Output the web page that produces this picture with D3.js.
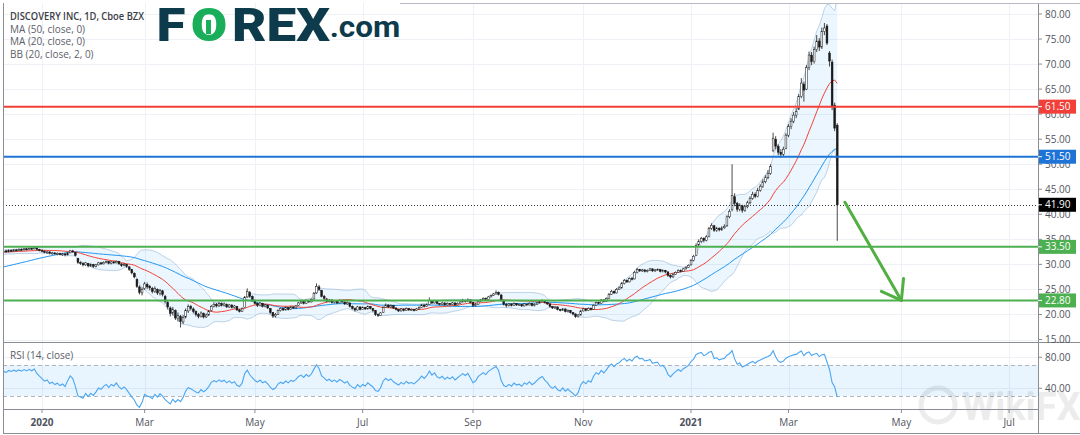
<!DOCTYPE html>
<html><head><meta charset="utf-8">
<script src="https://cdn.jsdelivr.net/npm/d3@7"></script>
<style>html,body{margin:0;padding:0;background:#fff;}svg{display:block;}</style>
</head><body>
<svg id="chart" width="1080" height="435"></svg>
<script>
// ---------------- DATA ----------------
const startDate = "2019-12-09";
const holidays = ["2019-12-25","2020-01-01","2020-01-20","2020-02-17","2020-04-10","2020-05-25","2020-07-03","2020-09-07","2020-11-26","2020-12-25","2021-01-01","2021-01-18","2021-02-15","2021-04-02","2021-05-31","2021-07-05"];
// closes before the visible window (estimated from where the MA(50)/BB start)
const priorCloses = [26.6,26.9,26.4,26.8,27.1,26.7,26.5,26.9,27.2,26.8,26.6,27.0,26.7,26.4,26.8,27.1,26.9,26.6,27.0,27.3,26.9,26.7,27.0,26.8,27.1,26.9,27.2,
31.2,31.8,32.2,31.9,32.4,32.1,32.6,32.3,32.0,32.5,32.8,32.4,32.7,32.3,32.6,32.9,32.5,32.2,32.6,32.4,32.7,32.3];
const closes = [32.4,32.6,32.5,32.8,32.7,32.9,32.8,33.0,32.9,33.1,33.0,33.2,33.1,33.3,33.0,32.8,
32.6,32.4,32.5,32.2,32.3,32.1,32.2,32.0,32.1,31.9,32.3,32.7,32.5,31.8,
30.4,30.2,29.9,30.3,29.7,30.0,29.6,29.9,30.3,30.1,
30.4,30.6,30.2,30.5,30.3,30.6,30.1,29.8,30.0,29.6,
29.0,28.3,27.5, 25.6,24.4,25.0,
26.1,25.5,25.3,24.6,25.2,24.3,24.8,24.0,
22.6,21.5,20.2,21.0,19.3,19.8,18.6,19.4,
20.8,21.6,21.2,20.6,20.0,19.6,20.3,19.5,19.9,20.6,
21.6,22.0,21.7,22.2,21.8,22.1,21.5,21.9,21.4,21.7,20.9,20.6,21.2,
23.4,24.6,23.6,22.9,22.2,21.8,22.3,21.6,21.9,21.3,
20.4,19.7,20.0,20.8,21.2,20.9,21.4,21.0,21.5,21.3,21.7,
22.3,22.6,22.2,22.8,22.5,23.0,24.2,25.6,25.0,23.6,23.2,22.6,
22.9,22.4,22.7,22.3,22.8,22.5,22.1,22.4,21.6,21.2,20.9,21.5,21.0,
21.4,21.1,21.6,21.2,20.8,20.0,19.8,20.3,21.4,21.9,21.5,21.8,21.3,
21.0,20.7,21.1,20.8,21.2,20.9,21.0,20.8,21.1,21.4,
21.9,21.6,22.0,22.8,22.3,22.7,22.2,22.0,22.3,21.9,22.2,22.0,22.3,21.9,22.2,
22.5,22.8,22.6,22.9,22.4,21.8,22.0,
22.6,22.9,23.2,23.0,23.5,23.8,24.1,24.4,24.0,
22.8,22.0,21.8,22.1,21.8,22.2,21.9,22.0,21.7,22.1,21.9,22.2,21.8,22.0,22.3,
22.6,22.8,22.4,22.1,21.6,21.3,21.5,21.0,20.8,21.1,20.6,20.8,20.4,20.1,
19.6,19.9,20.7,21.1,20.8,21.2,21.0,
21.8,22.4,22.2,22.9,22.6,23.2,24.0,24.6,24.3,25.0,25.3,26.2,26.8,26.5,27.2,27.0,
28.4,29.0,28.7,28.9,28.6,28.8,29.1,28.7,28.9,29.0,28.6,28.8,28.5,27.8,27.5,28.0,
28.4,28.8,28.6,29.1,29.4,29.8,30.8,31.6,33.8,34.6,35.2,34.8,35.5,
37.2,37.8,36.8,37.2,36.9,37.3,37.6,39.5,40.6,
43.8,42.2,41.0,41.8,40.8,41.5,42.3,43.2,44.0,43.6,44.8,45.6,46.5,47.3,48.2,49.5,
55.2,53.6,52.4,52.0,53.0,55.8,57.5,58.6,59.8,60.5,63.5,66.2,64.8,
69.3,71.8,70.5,72.9,74.6,73.4,76.5,77.2,74.2,70.6,61.5,57.2,41.9];
const opens = [32.2,32.4,32.7,32.5,32.8,32.6,32.9,32.8,33.0,32.9,33.1,33.0,33.2,33.1,33.3,33.0,
32.8,32.6,32.3,32.5,32.1,32.3,32.0,32.2,31.9,32.1,31.9,32.3,32.7,32.4,
31.2,30.4,30.2,29.9,30.2,29.7,30.0,29.6,29.9,30.3,
30.1,30.4,30.6,30.2,30.5,30.3,30.6,30.1,29.8,30.0,
29.5,29.0,28.2, 27.0,25.5,24.3,
25.2,26.0,25.6,25.2,24.6,25.0,24.2,24.7,
23.6,22.4,21.3,20.3,20.8,19.2,19.6,18.5,
19.5,20.7,21.6,21.1,20.6,20.0,19.6,20.2,19.5,19.9,
20.8,21.6,22.0,21.7,22.2,21.8,22.0,21.5,21.9,21.4,21.6,20.9,20.6,
21.4,23.5,24.4,23.6,22.8,22.2,21.8,22.2,21.6,21.8,
21.2,20.4,19.7,20.0,20.8,21.2,20.9,21.4,21.0,21.5,21.3,
21.8,22.3,22.6,22.2,22.8,22.5,23.1,24.3,25.5,24.8,23.6,23.1,
22.6,22.9,22.4,22.7,22.3,22.8,22.5,22.1,22.3,21.6,21.2,20.9,21.5,
21.0,21.4,21.1,21.6,21.2,20.8,20.0,19.8,20.4,21.4,21.9,21.5,21.8,
21.3,21.0,20.7,21.1,20.8,21.2,20.9,21.0,20.8,21.1,
21.4,21.9,21.6,22.0,22.8,22.3,22.7,22.2,22.0,22.3,21.9,22.2,22.0,22.3,21.9,
22.2,22.5,22.8,22.6,22.9,22.4,21.8,
22.0,22.6,22.9,23.2,23.0,23.5,23.8,24.1,24.4,
23.9,22.8,22.0,21.8,22.1,21.8,22.2,21.9,22.0,21.7,22.1,21.9,22.2,21.8,22.0,
22.3,22.6,22.8,22.4,22.1,21.6,21.3,21.5,21.0,20.8,21.1,20.6,20.8,20.4,
20.1,19.6,19.9,20.7,21.1,20.8,21.2,
21.0,21.8,22.4,22.2,22.9,22.6,23.2,24.0,24.6,24.3,25.0,25.3,26.2,26.8,26.5,27.2,
27.1,28.4,29.0,28.7,28.9,28.6,28.8,29.1,28.7,28.9,29.0,28.6,28.8,28.5,27.8,27.5,
28.0,28.4,28.8,28.6,29.1,29.4,29.9,30.8,31.8,33.9,34.6,35.2,34.8,
35.6,37.2,37.7,36.8,37.2,36.9,37.3,37.7,39.5,
41.0,43.5,42.2,41.0,41.7,40.8,41.5,42.3,43.2,44.0,43.6,44.8,45.6,46.5,47.3,48.2,
52.8,55.0,53.6,52.4,52.0,53.2,55.8,57.5,58.6,59.8,61.0,63.5,66.0,
65.0,69.3,71.8,70.5,72.9,74.6,73.4,76.5,77.6,72.2,70.4,61.8,57.8];
const highs = [32.6,32.8,32.9,33.0,33.0,33.1,33.1,33.2,33.2,33.3,33.3,33.4,33.4,33.5,33.4,33.1,
33.0,32.8,32.7,32.6,32.5,32.4,32.4,32.3,32.3,32.2,32.5,32.9,32.9,32.5,
31.3,30.6,30.4,30.5,30.3,30.2,30.1,30.1,30.5,30.5,
30.6,30.8,30.7,30.7,30.7,30.8,30.7,30.2,30.3,30.1,
29.7,29.1,28.4, 27.2,25.8,25.4,
26.5,26.4,25.9,25.5,25.6,25.2,25.1,24.9,
23.9,22.8,21.6,21.5,21.0,20.4,19.9,19.9,
21.2,22.0,21.9,21.4,20.8,20.3,20.6,20.4,20.2,20.9,
21.9,22.4,22.3,22.5,22.4,22.4,22.2,22.1,22.0,21.9,21.7,21.1,21.4,
23.7,25.2,24.7,23.8,23.0,22.4,22.5,22.3,22.1,22.0,
21.3,20.5,20.3,21.0,21.4,21.3,21.6,21.5,21.7,21.6,21.9,
22.5,22.8,22.7,23.0,22.9,23.2,24.5,26.2,25.9,24.9,23.9,23.3,
23.1,23.0,22.9,22.8,23.0,22.9,22.6,22.6,22.4,21.8,21.4,21.7,21.6,
21.6,21.5,21.8,21.7,21.3,20.9,20.2,20.5,21.6,22.2,22.0,22.0,21.9,
21.4,21.1,21.3,21.2,21.4,21.3,21.2,21.1,21.3,21.6,
22.1,22.0,22.2,23.4,22.9,22.9,22.8,22.3,22.5,22.4,22.4,22.3,22.5,22.4,22.4,
22.7,23.1,22.9,23.2,23.0,22.5,22.3,
22.8,23.1,23.4,23.4,23.7,24.0,24.3,24.8,24.6,
24.0,23.0,22.3,22.3,22.2,22.4,22.3,22.2,22.1,22.3,22.2,22.4,22.3,22.2,22.5,
22.8,23.0,22.9,22.5,22.2,21.7,21.7,21.6,21.1,21.3,21.2,21.0,20.9,20.5,
20.2,20.1,20.9,21.3,21.2,21.4,21.4,
22.0,22.6,22.6,23.1,23.0,23.4,24.3,24.9,24.8,25.3,25.6,26.5,27.1,27.0,27.4,27.5,
28.7,29.3,29.1,29.1,29.0,29.0,29.3,29.2,29.1,29.2,29.1,29.0,28.9,28.6,28.0,28.2,
28.6,29.0,29.0,29.3,29.6,30.0,31.1,31.9,34.2,35.0,35.5,35.4,35.8,
37.5,38.2,37.9,37.5,37.4,37.6,38.0,39.8,41.0,
50.0,44.2,42.5,42.2,41.9,41.9,42.7,43.6,44.5,44.4,45.3,46.0,47.0,47.8,48.8,50.0,
56.3,55.6,54.0,53.0,53.5,56.2,58.0,59.2,60.4,61.2,64.0,67.2,66.5,
69.8,72.5,72.4,73.5,75.8,75.2,77.3,78.2,78.0,72.6,70.9,62.3,58.2];
const lows = [32.0,32.3,32.3,32.4,32.5,32.5,32.6,32.7,32.7,32.8,32.8,32.9,32.9,33.0,32.8,32.6,
32.4,32.2,32.1,32.0,31.9,31.9,31.8,31.8,31.7,31.6,31.8,32.2,32.3,31.6,
30.1,29.9,29.6,29.7,29.4,29.5,29.3,29.4,29.8,29.9,
30.0,30.2,30.0,30.0,30.1,30.2,29.9,29.5,29.6,29.3,
28.7,28.0,27.2, 25.3,24.0,23.8,
24.9,25.1,24.8,24.2,24.3,23.9,23.8,23.6,
22.2,21.0,19.6,19.8,18.9,18.6,17.4,18.1,
19.2,20.3,20.8,20.2,19.6,19.2,19.4,19.2,19.3,19.7,
20.6,21.4,21.4,21.5,21.6,21.6,21.3,21.3,21.2,21.2,20.7,20.4,20.5,
21.3,23.3,23.3,22.6,22.0,21.5,21.6,21.4,21.4,21.1,
20.1,19.3,19.4,19.9,20.6,20.7,20.8,20.8,20.9,21.1,21.2,
21.7,22.1,22.0,22.1,22.3,22.4,23.0,24.1,24.7,23.4,22.9,22.4,
22.4,22.2,22.2,22.1,22.2,22.3,21.9,21.9,21.4,21.0,20.6,20.8,20.8,
20.9,20.9,21.0,21.0,20.5,19.7,19.5,19.7,20.3,21.3,21.3,21.3,21.1,
20.8,20.5,20.6,20.6,20.7,20.7,20.7,20.6,20.7,21.0,
21.3,21.4,21.5,21.9,22.1,22.2,22.0,21.8,21.9,21.8,21.8,21.8,21.9,21.8,21.8,
22.1,22.4,22.4,22.5,22.2,21.5,21.6,
21.9,22.5,22.8,22.8,22.9,23.4,23.7,24.0,23.8,
22.6,21.8,21.4,21.6,21.6,21.7,21.7,21.7,21.5,21.6,21.7,21.8,21.6,21.6,21.9,
22.2,22.5,22.2,21.9,21.4,21.1,21.1,20.8,20.6,20.7,20.4,20.4,20.2,19.8,
19.3,19.4,19.8,20.6,20.6,20.7,20.8,
20.9,21.7,22.0,22.1,22.4,22.5,23.1,23.9,24.1,24.2,24.9,25.2,26.0,26.3,26.4,26.8,
27.0,28.2,28.5,28.5,28.4,28.4,28.7,28.5,28.5,28.7,28.4,28.4,28.2,27.5,27.2,27.3,
27.9,28.3,28.4,28.5,29.0,29.3,29.8,30.6,31.7,33.6,34.3,34.4,34.6,
35.4,36.9,36.5,36.5,36.6,36.7,37.1,37.5,39.2,
40.6,41.6,40.5,40.6,40.3,40.5,41.2,42.0,42.9,43.2,43.4,44.5,45.3,46.2,47.0,47.9,
52.4,53.0,51.8,51.3,51.6,53.0,55.4,57.0,58.2,59.2,60.8,63.2,62.5,
64.8,68.8,69.8,70.1,72.4,72.6,73.0,75.8,73.8,69.5,60.8,56.6,34.7];

const levels = [61.5, 51.5, 33.5, 22.8];
const lastPrice = 41.9;
const priceTicks = [15,20,25,30,35,40,45,50,55,60,65,70,75,80];
const rsiTicks = [40, 80];
const rsiBand = [30, 70];
const monthTicks = ["2020-01","2020-03","2020-05","2020-07","2020-09","2020-11","2021-01","2021-03","2021-05","2021-07"];
const monthLabels = ["2020","Mar","May","Jul","Sep","Nov","2021","Mar","May","Jul"];
const arrowFrom = {date:"2021-03-31", price:42.4};
const arrowTo = {date:"2021-05-03", price:22.8};
const legendLines = ["DISCOVERY INC, 1D, Cboe BZX","MA (50, close, 0)","MA (20, close, 0)","BB (20, close, 2, 0)"];
const logoParts = ["F","O","REX",".com"];

// ---------------- LAYOUT ----------------
const L = 3, R = 1038, mainTop = 3, mainBot = 342, rsiTop = 342, rsiBot = 409, bottom = 433;
const svg = d3.select("#chart");
const font = "'Open Sans', 'DejaVu Sans', sans-serif";
const axisColor = "#50535e";

function buildCalendar(start, end, hol) {
  const hs = new Set(hol), out = [];
  const d = new Date(start + "T12:00:00Z"), e = new Date(end + "T12:00:00Z");
  while (d <= e) {
    const wd = d.getUTCDay(), s = d.toISOString().slice(0, 10);
    if (wd !== 0 && wd !== 6 && !hs.has(s)) out.push(s);
    d.setUTCDate(d.getUTCDate() + 1);
  }
  return out;
}
const calendar = buildCalendar(startDate, "2021-08-31", holidays);
const idx = s => calendar.indexOf(s);
const firstOfMonth = m => calendar.findIndex(s => s.startsWith(m));

const x = d3.scaleLinear().domain([idx("2020-01-02"), idx("2021-03-01")]).range([42, 788.5]);
const y = d3.scaleLinear().domain([15, 80]).range([339.5, 14]);
const yr = d3.scaleLinear().domain([30, 70]).range([396, 365]);

// indicators
const all = priorCloses.concat(closes);
const off = priorCloses.length;
function sma(n, j) { let s = 0; for (let k = j - n + 1; k <= j; k++) s += all[k]; return s / n; }
function sd(n, j, m) { let s = 0; for (let k = j - n + 1; k <= j; k++) s += (all[k] - m) ** 2; return Math.sqrt(s / n); }
const ma50 = [], ma20 = [], bbU = [], bbL = [];
closes.forEach((c, i) => {
  const j = i + off;
  ma50.push(sma(50, j));
  const m = sma(20, j), s = sd(20, j, m);
  ma20.push(m); bbU.push(m + 2 * s); bbL.push(m - 2 * s);
});
const rsiAll = [];
{
  let ag = 0, al = 0; const n = 14;
  for (let j = 1; j < all.length; j++) {
    const ch = all[j] - all[j - 1], g = Math.max(ch, 0), l = Math.max(-ch, 0);
    if (j <= n) { ag += g / n; al += l / n; }
    else { ag = (ag * (n - 1) + g) / n; al = (al * (n - 1) + l) / n; }
    rsiAll[j] = al === 0 ? 100 : 100 - 100 / (1 + ag / al);
  }
}
const rsi = closes.map((c, i) => rsiAll[i + off]);

// ---------------- DRAW ----------------
const defs = svg.append("defs");
defs.append("clipPath").attr("id", "cm").append("rect").attr("x", L).attr("y", mainTop).attr("width", R - L).attr("height", mainBot - mainTop);
defs.append("clipPath").attr("id", "cr").append("rect").attr("x", L).attr("y", rsiTop).attr("width", R - L).attr("height", rsiBot - rsiTop);

const grid = svg.append("g").attr("stroke", "#eef1f6").attr("stroke-width", 1);
priceTicks.forEach(v => grid.append("line").attr("x1", L).attr("x2", R).attr("y1", Math.round(y(v)) + 0.5).attr("y2", Math.round(y(v)) + 0.5));
rsiTicks.forEach(v => grid.append("line").attr("x1", L).attr("x2", R).attr("y1", Math.round(yr(v)) + 0.5).attr("y2", Math.round(yr(v)) + 0.5));
const tickIdx = monthTicks.map(firstOfMonth);
tickIdx.forEach(t => grid.append("line").attr("x1", Math.round(x(t)) + 0.5).attr("x2", Math.round(x(t)) + 0.5).attr("y1", mainTop).attr("y2", rsiBot));

// main pane
const gm = svg.append("g").attr("clip-path", "url(#cm)");
const xi = (d, i) => x(i);
gm.append("path").datum(closes)
  .attr("d", d3.area().x(xi).y0((d, i) => y(bbL[i])).y1((d, i) => y(bbU[i])))
  .attr("fill", "rgba(33,150,243,0.09)");
[bbU, bbL].forEach(arr => gm.append("path").datum(arr).attr("d", d3.line().x(xi).y(d => y(d)))
  .attr("fill", "none").attr("stroke", "rgba(120,160,200,0.45)").attr("stroke-width", 1));
gm.append("path").datum(ma50).attr("d", d3.line().x(xi).y(d => y(d))).attr("fill", "none").attr("stroke", "#2196f3").attr("stroke-width", 1);
gm.append("path").datum(ma20).attr("d", d3.line().x(xi).y(d => y(d))).attr("fill", "none").attr("stroke", "#f44336").attr("stroke-width", 1);

const candles = gm.append("g");
closes.forEach((c, i) => {
  const o = opens[i], h = highs[i], l = lows[i], cx = x(i);
  const up = c >= o;
  candles.append("line").attr("x1", cx).attr("x2", cx).attr("y1", y(h)).attr("y2", y(l)).attr("stroke", "#1a1a1a").attr("stroke-width", 0.8);
  const top = y(Math.max(o, c)), bh = Math.max(1, Math.abs(y(o) - y(c)));
  candles.append("rect").attr("x", cx - 0.9).attr("y", top).attr("width", 1.8).attr("height", bh)
    .attr("fill", up ? "#ffffff" : "#1a1a1a").attr("stroke", "#1a1a1a").attr("stroke-width", 0.5);
});

const levelColors = ["#f23f37", "#1e74d6", "#4caf50", "#4caf50"];
levels.forEach((v, k) => gm.append("line").attr("x1", L).attr("x2", R).attr("y1", y(v)).attr("y2", y(v))
  .attr("stroke", levelColors[k]).attr("stroke-width", 2));
gm.append("line").attr("x1", L).attr("x2", R).attr("y1", Math.round(y(lastPrice)) + 0.5).attr("y2", Math.round(y(lastPrice)) + 0.5)
  .attr("stroke", "#333").attr("stroke-width", 1).attr("stroke-dasharray", "1,2");

// arrow
const ax1 = x(idx(arrowFrom.date)), ay1 = y(arrowFrom.price), ax2 = x(idx(arrowTo.date)), ay2 = y(arrowTo.price);
const ang = Math.atan2(ay1 - ay2, ax1 - ax2), wl = 22, wa = 0.62;
const arrowG = svg.append("g").attr("stroke", "#52b043").attr("stroke-width", 3).attr("fill", "none").attr("stroke-linecap", "round").attr("stroke-linejoin", "round");
arrowG.append("line").attr("x1", ax1).attr("y1", ay1).attr("x2", ax2).attr("y2", ay2);
arrowG.append("path").attr("d", d3.line()([
  [ax2 + wl * Math.cos(ang + wa), ay2 + wl * Math.sin(ang + wa)], [ax2, ay2],
  [ax2 + wl * Math.cos(ang - wa), ay2 + wl * Math.sin(ang - wa)]]));

// RSI pane
const gr = svg.append("g").attr("clip-path", "url(#cr)");
gr.append("rect").attr("x", L).attr("width", R - L).attr("y", yr(rsiBand[1])).attr("height", yr(rsiBand[0]) - yr(rsiBand[1])).attr("fill", "rgba(33,150,243,0.1)");
rsiBand.forEach(v => gr.append("line").attr("x1", L).attr("x2", R).attr("y1", Math.round(yr(v)) + 0.5).attr("y2", Math.round(yr(v)) + 0.5)
  .attr("stroke", "#b2b5be").attr("stroke-dasharray", "4,3"));
gr.append("path").datum(rsi).attr("d", d3.line().x(xi).y(d => yr(d))).attr("fill", "none").attr("stroke", "#4ba6f2").attr("stroke-width", 1.1);

// watermark (under axis text)
const wm = svg.append("g").attr("opacity", 0.07);
wm.append("circle").attr("cx", 938).attr("cy", 405).attr("r", 17).attr("fill", "none").attr("stroke", "#000").attr("stroke-width", 5);
wm.append("text").attr("x", 962).attr("y", 420).attr("font-family", "Roboto, sans-serif").attr("font-weight", 700).attr("font-size", 38).attr("fill", "#000").text("WikiFX");

// frames
const fr = svg.append("g").attr("stroke", "#8a8d94").attr("stroke-width", 1);
fr.append("line").attr("x1", L + 0.5).attr("x2", L + 0.5).attr("y1", mainTop).attr("y2", bottom);
fr.append("line").attr("x1", R + 0.5).attr("x2", R + 0.5).attr("y1", mainTop).attr("y2", bottom);
fr.append("line").attr("x1", L).attr("x2", 1080).attr("y1", mainBot + 0.5).attr("y2", mainBot + 0.5);
fr.append("line").attr("x1", L).attr("x2", R).attr("y1", rsiBot + 0.5).attr("y2", rsiBot + 0.5);
fr.append("line").attr("x1", L).attr("x2", 1080).attr("y1", bottom + 0.5).attr("y2", bottom + 0.5);
fr.append("line").attr("x1", 400).attr("x2", 1080).attr("y1", mainTop + 0.5).attr("y2", mainTop + 0.5).attr("stroke", "#b8bbc2");

// price axis
const pa = svg.append("g").attr("font-family", font).attr("font-size", 10).attr("fill", axisColor);
priceTicks.forEach(v => {
  pa.append("line").attr("x1", R).attr("x2", R + 4).attr("y1", y(v)).attr("y2", y(v)).attr("stroke", "#8a8d94");
  pa.append("text").attr("x", R + 7).attr("y", y(v) + 3.5).text(v.toFixed(2));
});
rsiTicks.forEach(v => {
  pa.append("line").attr("x1", R).attr("x2", R + 4).attr("y1", yr(v)).attr("y2", yr(v)).attr("stroke", "#8a8d94");
  pa.append("text").attr("x", R + 7).attr("y", yr(v) + 3.5).text(v.toFixed(2));
});
const labelVals = levels.concat([lastPrice]);
const labelCols = levelColors.concat(["#000000"]);
labelVals.forEach((v, k) => {
  pa.append("rect").attr("x", R + 1).attr("y", y(v) - 7).attr("width", 37).attr("height", 14).attr("fill", labelCols[k]);
  pa.append("line").attr("x1", R).attr("x2", R + 4).attr("y1", y(v)).attr("y2", y(v)).attr("stroke", "#fff");
  pa.append("text").attr("x", R + 7).attr("y", y(v) + 3.5).attr("fill", "#fff").text(v.toFixed(2));
});

// time axis
const ta = svg.append("g").attr("font-family", font).attr("font-size", 10).attr("fill", axisColor).attr("text-anchor", "middle");
tickIdx.forEach((t, k) => {
  ta.append("line").attr("x1", x(t)).attr("x2", x(t)).attr("y1", rsiBot).attr("y2", rsiBot + 4).attr("stroke", "#8a8d94");
  ta.append("text").attr("x", x(t)).attr("y", 426).attr("font-weight", /^\d/.test(monthLabels[k]) ? 700 : 400).text(monthLabels[k]);
});

// legend
const lg = svg.append("g").attr("font-family", font).attr("font-size", 10);
legendLines.forEach((t, k) => {
  const tx = lg.append("text").attr("x", 10).attr("y", 20 + k * 12.6)
    .attr("fill", k === 0 ? "#3b3d44" : "#5d6068").attr("font-weight", k === 0 ? 600 : 400).text(t);
  if (k === 0) tx.attr("textLength", 134).attr("lengthAdjust", "spacingAndGlyphs");
});
svg.append("text").attr("x", 10).attr("y", 359).attr("font-family", font).attr("font-size", 10).attr("fill", "#5d6068").text("RSI (14, close)");

// logo (each part centred and widened with a horizontal scale)
const logo = svg.append("g").attr("font-family", "Roboto, 'DejaVu Sans', sans-serif").attr("font-weight", 900).attr("text-anchor", "middle");
const logoCenters = [171, 209, 281, 365];
const logoColors = ["#0d3b4b", "#1aae5a", "#0d3b4b", "#0d3b4b"];
const logoSizes = [46, 46, 46, 30];
const logoScale = [1.15, 1.15, 1.15, 1.05];
const logoBase = [41, 41, 41, 37];
logoParts.forEach((t, k) => {
  logo.append("text").attr("transform", `translate(${logoCenters[k]},${logoBase[k]}) scale(${logoScale[k]},1)`)
    .attr("font-size", logoSizes[k]).attr("font-weight", k === 3 ? 700 : 900).attr("fill", logoColors[k]).text(t);
});
logo.append("rect").attr("x", 206).attr("y", 20).attr("width", 5).attr("height", 14).attr("fill", "#1aae5a");
</script>
</body></html>
